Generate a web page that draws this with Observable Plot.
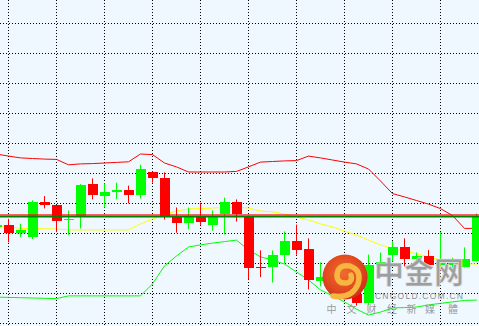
<!DOCTYPE html>
<html>
<head>
<meta charset="utf-8">
<script src="https://cdn.jsdelivr.net/npm/d3@7"></script>
<script src="https://cdn.jsdelivr.net/npm/@observablehq/plot@0.6"></script>
<style>
  html, body { margin: 0; padding: 0; background: #F0F8FF; overflow: hidden; }
  #wrap { position: relative; width: 479px; height: 326px; }
  #wrap svg.overlay { position: absolute; left: 0; top: 0; pointer-events: none; }
</style>
</head>
<body>
<div id="wrap"></div>
<script>
// Candle index (-1 is the partly visible candle at the left edge)
const idx = [-1,0,1,2,3,4,5,6,7,8,9,10,11,12,13,14,15,16,17,18,19,20,21,22,23,24,25,26,27,28,29,30,31,32,33,34,35,36,37,38,39];

const open  = [1232.0,1232.8,1229.9,1228.8,1240.5,1239.2,1234.2,1235.5,1246.2,1242.2,1243.8,1244.2,1242.6,1250.2,1248.2,1235.5,1233.5,1235.5,1232.8,1236.2,1240.2,1235.8,1218.6,1218.6,1222.6,1227.2,1224.8,1213.9,1214.8,1212.8,1209.8,1206.7,1219.5,1222.7,1225.2,1221.2,1222.5,1219.3,1219.2,1218.8,1220.8];
const high  = [1233.8,1234.7,1233.1,1240.9,1242.3,1239.2,1237.5,1246.3,1248.2,1246.5,1246.8,1245.8,1252.8,1250.5,1250.2,1238.5,1238.5,1240.1,1237.5,1241.8,1241.2,1235.8,1224.2,1224.2,1230.5,1232.8,1228.2,1220.2,1217.2,1214.5,1211.2,1222.8,1223.5,1227.3,1228.2,1223.5,1224.3,1230.3,1221.8,1225.2,1236.5];
const low   = [1231.2,1226.9,1228.6,1228.0,1238.2,1230.3,1229.3,1231.5,1241.2,1238.5,1241.2,1239.9,1241.5,1246.8,1234.5,1230.1,1231.2,1232.7,1230.8,1229.5,1233.8,1214.5,1215.3,1213.5,1219.9,1222.8,1211.2,1212.2,1210.8,1208.8,1205.8,1205.8,1217.8,1220.5,1218.8,1219.5,1218.2,1217.8,1217.8,1218.5,1220.5];
const close = [1232.8,1229.9,1230.9,1240.5,1239.3,1233.9,1234.8,1246.0,1242.6,1243.8,1244.2,1242.6,1251.2,1248.2,1235.8,1233.5,1235.5,1233.8,1235.5,1240.2,1236.2,1218.3,1218.3,1222.8,1227.5,1224.5,1214.2,1215.3,1212.2,1209.8,1206.7,1219.5,1220.5,1225.2,1221.5,1222.2,1219.5,1220.3,1220.5,1221.5,1235.2];

// Bollinger bands
const upper  = [1256.5,1255.8,1255.2,1255.0,1254.8,1254.7,1252.9,1253.2,1253.3,1253.5,1253.7,1253.9,1256.5,1256.3,1253.5,1252.2,1250.5,1250.5,1250.5,1250.5,1250.7,1252.2,1253.8,1254.0,1254.2,1254.3,1255.8,1255.2,1254.5,1253.8,1253.2,1251.5,1247.5,1243.3,1242.2,1241.0,1239.8,1238.3,1236.0,1231.7,1231.7];
const middle = [1232.3,1232.2,1231.7,1231.6,1231.6,1231.5,1231.2,1231.2,1231.2,1231.2,1231.2,1231.2,1233.2,1234.8,1236.5,1237.5,1238.2,1238.3,1238.5,1238.7,1238.8,1238.5,1237.5,1237.2,1236.5,1235.5,1234.5,1233.2,1232.2,1230.8,1229.5,1227.8,1226.2,1225.0,1224.2,1223.2,1222.2,1221.2,1220.5,1220.0,1219.8];
const lower  = [1208.8,1208.7,1208.6,1208.5,1208.4,1208.3,1209.2,1209.2,1209.2,1209.2,1209.2,1209.2,1209.2,1213.2,1219.2,1222.5,1225.5,1226.2,1226.8,1227.3,1227.8,1224.5,1222.2,1221.2,1219.8,1217.2,1214.5,1211.2,1209.2,1207.2,1204.8,1202.8,1203.8,1205.2,1205.3,1205.5,1206.2,1206.7,1207.2,1207.7,1207.8];

// Horizontal levels
const redLevel = [1236.2];
const greenLevel = [1235.7];

// Grid ticks
const gridX = [0,4,8,12,16,20,24,28,32,36];
const gridY = [1200,1210,1220,1230,1240,1250,1260,1270,1280,1290,1300];

const UP = "#00FF00", DOWN = "#FF0000";

const candles = idx.map((i, k) => ({i, open: open[k], high: high[k], low: low[k], close: close[k]}));
const bands = idx.map((i, k) => ({i, upper: upper[k], middle: middle[k], lower: lower[k]}));
const col = d => d.close >= d.open ? UP : DOWN;

const chart = Plot.plot({
  width: 479,
  height: 326,
  margin: 0,
  x: {type: "linear", domain: [-8/12, 471/12], axis: null},
  y: {domain: [1199, 1300 + 23/3], axis: null},
  color: {type: "identity"},
  style: {background: "#F0F8FF", overflow: "hidden"},
  marks: [
    Plot.ruleY(gridY, {stroke: "#000", strokeDasharray: "1,2", strokeWidth: 1}),
    Plot.ruleX(gridX, {stroke: "#000", strokeDasharray: "1,2", strokeWidth: 1}),
    Plot.line(bands, {x: "i", y: "upper", stroke: "#FF0000", strokeWidth: 1}),
    Plot.line(bands, {x: "i", y: "middle", stroke: "#FFFF00", strokeWidth: 1}),
    Plot.line(bands, {x: "i", y: "lower", stroke: "#00FF00", strokeWidth: 1}),
    Plot.ruleX(candles, {x: "i", y1: "low", y2: "high", stroke: col, strokeWidth: 1}),
    Plot.rect(candles, {x1: d => d.i - 4.5/12, x2: d => d.i + 5.5/12, y1: "open", y2: "close", fill: col, shapeRendering: "crispEdges"}),
    Plot.ruleY(redLevel, {stroke: "#FF0000", strokeWidth: 1}),
    Plot.ruleY(greenLevel, {stroke: "#008000", strokeWidth: 2})
  ]
});

const wrap = document.getElementById("wrap");
wrap.appendChild(chart);

// Watermark (decoration)
const ns = "http://www.w3.org/2000/svg";
const ov = document.createElementNS(ns, "svg");
ov.setAttribute("class", "overlay");
ov.setAttribute("width", 479);
ov.setAttribute("height", 326);
ov.innerHTML = `
<defs>
  <radialGradient id="lg" cx="45%" cy="40%" r="62%">
    <stop offset="0" stop-color="#F06C30"/>
    <stop offset="0.65" stop-color="#E2491F"/>
    <stop offset="1" stop-color="#C5301A"/>
  </radialGradient>
</defs>
<circle cx="345" cy="277" r="22.5" fill="url(#lg)"/>
<path d="M333 296 Q352 299 358 284 Q362 270 350 266 Q338 264 337 275 Q337 284 347 283 Q353 281 351 275"
      fill="none" stroke="#F6B640" stroke-width="5.5" stroke-linecap="round" stroke-linejoin="round"/>
<text x="374" y="282.5" font-family="'Noto Sans CJK SC', sans-serif" font-size="30" font-weight="bold" fill="#9E9E9E" stroke="#E6E6E6" stroke-width="0.6" textLength="90" lengthAdjust="spacingAndGlyphs">中金网</text>
<text x="375" y="299" font-family="'Liberation Sans', Arial, sans-serif" font-size="8.5" fill="#8E8E8E" textLength="88" lengthAdjust="spacing">CNGOLD.COM.CN</text>
<g font-family="'Noto Sans CJK SC', sans-serif" font-size="10" fill="#9A9A9A" text-anchor="middle">
  <text x="331.5" y="313.2">中</text>
  <text x="351.5" y="313.2">文</text>
  <text x="371.5" y="313.2">财</text>
  <text x="392" y="313.2">经</text>
  <text x="411.5" y="313.2">新</text>
  <text x="430" y="313.2">媒</text>
  <text x="453" y="313.2">體</text>
</g>`;
wrap.appendChild(ov);
</script>
</body>
</html>
